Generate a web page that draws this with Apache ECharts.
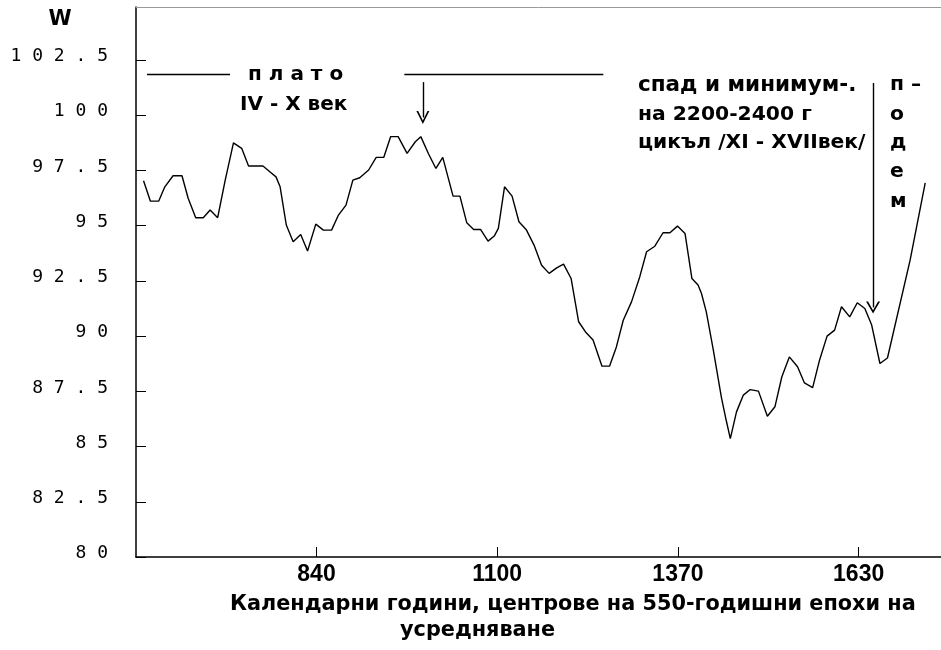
<!DOCTYPE html>
<html>
<head>
<meta charset="utf-8">
<script src="https://cdn.jsdelivr.net/npm/echarts@6/dist/echarts.min.js"></script>
<style>
html, body { margin: 0; padding: 0; background: #fff; }
#chart { width: 941px; height: 650px; }
</style>
</head>
<body>
<div id="chart"></div>
<script>
// центрове на епохите (години) и стойности W
var years = [588, 598, 610, 619, 631, 644, 653, 664, 675, 685, 696, 707, 719, 731, 741, 752, 762, 772, 781, 787,
  796, 806, 817, 827, 839, 850, 862, 872, 883, 893, 903, 916, 927, 938, 948, 959, 972, 984, 992, 1003,
  1014, 1024, 1039, 1049, 1059, 1069, 1079, 1090, 1099, 1105, 1114, 1125, 1135, 1146, 1157, 1168, 1179, 1190, 1200, 1211,
  1222, 1232, 1243, 1256, 1267, 1277, 1287, 1299, 1311, 1321, 1333, 1345, 1355, 1366, 1377, 1387, 1396, 1401, 1408, 1418,
  1430, 1437, 1443, 1452, 1462, 1472, 1484, 1497, 1508, 1518, 1529, 1541, 1551, 1563, 1573, 1584, 1595, 1605, 1617, 1628,
  1639, 1649, 1661, 1672, 1705, 1727]
var values = [97.03, 96.11, 96.11, 96.76, 97.26, 97.26, 96.24, 95.36, 95.36, 95.71, 95.36, 97.06, 98.75, 98.5, 97.7, 97.7, 97.7, 97.44, 97.21, 96.76,
  95.03, 94.27, 94.6, 93.85, 95.07, 94.8, 94.8, 95.48, 95.93, 97.06, 97.17, 97.52, 98.09, 98.09, 99.03, 99.03, 98.27, 98.8, 99.03, 98.27,
  97.59, 98.09, 96.34, 96.34, 95.13, 94.83, 94.83, 94.3, 94.53, 94.88, 96.76, 96.34, 95.18, 94.8, 94.12, 93.21, 92.84, 93.09, 93.26, 92.61,
  90.65, 90.19, 89.82, 88.64, 88.64, 89.51, 90.72, 91.55, 92.68, 93.82, 94.07, 94.68, 94.68, 94.98, 94.65, 92.61, 92.31, 91.93, 91.1, 89.41,
  87.23, 86.19, 85.36, 86.57, 87.33, 87.58, 87.51, 86.37, 86.8, 88.15, 89.06, 88.61, 87.88, 87.67, 88.91, 90, 90.27, 91.33, 90.87, 91.51,
  91.25, 90.5, 88.76, 89.01, 93.44, 96.94]

var yTicks = [80, 82.5, 85, 87.5, 90, 92.5, 95, 97.5, 100, 102.5]
var xTicks = [840, 1103.3, 1366.7, 1630]
var xTickLabels = ['840', '1100', '1370', '1630']

// линии и стрелки на надписите: [x1, y1, x2, y2]
var platoLines = [[593, 101.85, 714, 101.85], [968, 101.85, 1258, 101.85]]
var arrowSmall = [995, 101.5, 995, 99.9]
var arrowBig = [1651, 101.46, 1651, 91.3]

var chart = echarts.init(document.getElementById('chart'))

var pts = years.map(function (y, i) { return [y, values[i]] })
var seg = function (s) { return [{coord: [s[0], s[1]]}, {coord: [s[2], s[3]]}] }
var vee = 'path://M5,0 L10,10 L8.6,10 L5,2.6 L1.4,10 L0,10 Z'

var fontL = 'bold 20px "DejaVu Sans", sans-serif'
var fontR = 'bold 20.3px "DejaVu Sans", sans-serif'
var fontName = 'bold 20.8px "DejaVu Sans", sans-serif'

var option = {
  animation: false,
  backgroundColor: '#fff',
  grid: {
    left: 136,
    right: 0,
    top: 7,
    bottom: 93
  },
  xAxis: [{
    type: 'value',
    min: 577,
    max: 1750,
    axisLine: { lineStyle: { color: '#000', width: 1.5 } },
    axisTick: { inside: true, length: 10, lineStyle: { color: '#000' }, customValues: xTicks },
    splitLine: { show: false },
    axisLabel: {
      customValues: xTicks,
      margin: 6,
      color: '#000',
      fontFamily: '"Liberation Sans", sans-serif',
      fontWeight: 'bold',
      fontSize: 23,
      formatter: function (v) { return xTickLabels[xTicks.indexOf(v)] }
    }
  }, {
    // тънката горна рамка
    type: 'value',
    position: 'top',
    min: 577,
    max: 1750,
    axisLine: { lineStyle: { color: '#999', width: 1 } },
    axisTick: { show: false },
    axisLabel: { show: false },
    splitLine: { show: false }
  }],
  yAxis: {
    type: 'value',
    min: 80,
    max: 104.9,
    axisLine: { show: true, lineStyle: { color: '#000', width: 1.5 } },
    axisTick: { show: true, inside: true, length: 10, lineStyle: { color: '#000' }, customValues: yTicks },
    splitLine: { show: false },
    axisLabel: {
      customValues: yTicks,
      margin: 28,
      color: '#000',
      fontFamily: '"DejaVu Sans Mono", monospace',
      fontSize: 18,
      verticalAlign: 'bottom',
      lineHeight: 7,
      formatter: function (v) { return String(v).split('').join(' ') }
    }
  },
  series: [{
    type: 'line',
    data: pts,
    showSymbol: false,
    lineStyle: { color: '#000', width: 1.4 },
    markLine: {
      silent: true,
      label: { show: false },
      symbol: ['none', 'none'],
      lineStyle: { color: '#000', width: 1.4, type: 'solid' },
      data: [
        seg(platoLines[0]),
        seg(platoLines[1]),
        [{coord: [arrowSmall[0], arrowSmall[1]]}, {coord: [arrowSmall[2], arrowSmall[3]], symbol: vee, symbolSize: [13, 13]}],
        [{coord: [arrowBig[0], arrowBig[1]]}, {coord: [arrowBig[2], arrowBig[3]], symbol: vee, symbolSize: [14, 12]}]
      ]
    }
  }],
  graphic: [
    { type: 'text', x: 60, y: 20, style: { text: 'W', font: 'bold 21px "DejaVu Sans", sans-serif', fill: '#000', align: 'center', verticalAlign: 'middle' } },
    { type: 'text', x: 248, y: 75, style: { text: 'п л а т о', font: fontL, fill: '#000', verticalAlign: 'middle' } },
    { type: 'text', x: 240, y: 105, style: { text: 'IV - X век', font: fontL, fill: '#000', verticalAlign: 'middle' } },
    { type: 'text', x: 638, y: 85, style: { text: 'спад и минимум-.', font: 'bold 21.5px "DejaVu Sans", sans-serif', fill: '#000', verticalAlign: 'middle' } },
    { type: 'text', x: 638, y: 115, style: { text: 'на 2200-2400 г', font: fontR, fill: '#000', verticalAlign: 'middle' } },
    { type: 'text', x: 638, y: 143, style: { text: 'цикъл /XI - XVIIвек/', font: fontR, fill: '#000', verticalAlign: 'middle' } },
    { type: 'text', x: 890, y: 85, style: { text: 'п –', font: fontR, fill: '#000', verticalAlign: 'middle' } },
    { type: 'text', x: 890, y: 115, style: { text: 'о', font: fontR, fill: '#000', verticalAlign: 'middle' } },
    { type: 'text', x: 890, y: 143, style: { text: 'д', font: fontR, fill: '#000', verticalAlign: 'middle' } },
    { type: 'text', x: 890, y: 172, style: { text: 'е', font: fontR, fill: '#000', verticalAlign: 'middle' } },
    { type: 'text', x: 890, y: 202, style: { text: 'м', font: fontR, fill: '#000', verticalAlign: 'middle' } },
    { type: 'text', x: 230, y: 605, style: { text: 'Календарни години, центрове на 550-годишни епохи на', font: fontName, fill: '#000', verticalAlign: 'middle' } },
    { type: 'text', x: 400, y: 631, style: { text: 'усредняване', font: fontName, fill: '#000', verticalAlign: 'middle' } }
  ]
}

chart.setOption(option)
</script>
</body>
</html>
